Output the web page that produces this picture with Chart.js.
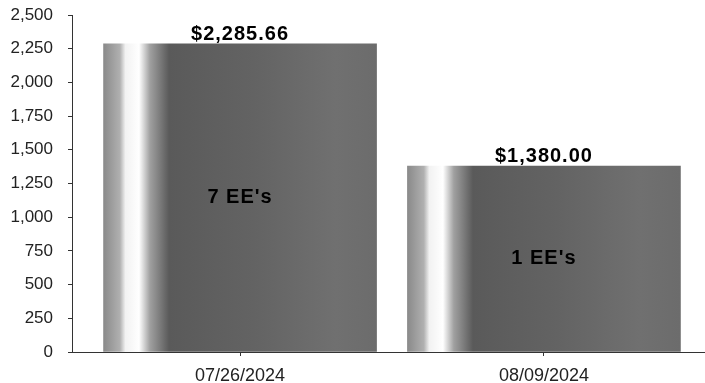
<!DOCTYPE html>
<html>
<head>
<meta charset="utf-8">
<script src="https://cdn.jsdelivr.net/npm/chart.js@4/dist/chart.umd.min.js"></script>
<style>
  html, body { margin: 0; padding: 0; background: #fff; }
  #chart { display: block; }
</style>
</head>
<body>
<canvas id="chart" width="705" height="383"></canvas>
<script>
// chart data
const categories = ["07/26/2024", "08/09/2024"];
const payTotals = [2285.66, 1380.00];
const employeeCounts = [7, 1];
const yTicks = [0, 250, 500, 750, 1000, 1250, 1500, 1750, 2000, 2250, 2500];

const BAR_W = 273;

function barFill(c) {
  const chart = c.chart;
  if (!chart.chartArea || !chart.scales.x) return '#6a6a6a';
  const cx = chart.scales.x.getPixelForValue(c.dataIndex);
  const x0 = cx - BAR_W / 2;
  const g = chart.ctx.createLinearGradient(x0, 0, x0 + BAR_W, 0);
  g.addColorStop(0.00, '#8a8a8a');
  g.addColorStop(0.06, '#b0b0b0');
  g.addColorStop(0.08, '#f2f2f2');
  g.addColorStop(0.13, '#ffffff');
  g.addColorStop(0.17, '#a0a0a0');
  g.addColorStop(0.24, '#5a5a5a');
  g.addColorStop(0.55, '#636363');
  g.addColorStop(0.85, '#707070');
  g.addColorStop(1.00, '#6c6c6c');
  return g;
}

const barLabels = {
  id: 'barLabels',
  afterDatasetsDraw(chart) {
    const ctx = chart.ctx;
    const meta = chart.getDatasetMeta(0);
    ctx.save();
    ctx.fillStyle = '#000';
    ctx.textAlign = 'center';
    ctx.font = 'bold 20px "Liberation Sans", Arial, sans-serif';
    ctx.letterSpacing = '1px';
    meta.data.forEach((bar, i) => {
      const v = '$' + payTotals[i].toLocaleString('en-US', { minimumFractionDigits: 2, maximumFractionDigits: 2 });
      ctx.textBaseline = 'alphabetic';
      ctx.fillText(v, bar.x, bar.y - 4);
      ctx.textBaseline = 'middle';
      ctx.fillText(employeeCounts[i] + " EE's", bar.x, (bar.y + bar.base) / 2);
    });
    ctx.restore();
  }
};

new Chart(document.getElementById('chart').getContext('2d'), {
  type: 'bar',
  data: {
    datasets: [{
      data: payTotals.map((v, i) => ({ x: i, y: v })),
      backgroundColor: barFill,
      borderWidth: 0,
      barThickness: BAR_W
    }]
  },
  options: {
    responsive: false,
    animation: false,
    layout: { padding: { top: 15, right: 0, left: 0, bottom: 0 } },
    plugins: { legend: { display: false }, tooltip: { enabled: false } },
    scales: {
      x: {
        type: 'linear',
        min: -0.553,
        max: 1.53,
        offset: false,
        afterBuildTicks: (s) => { s.ticks = categories.map((c, i) => ({ value: i })); },
        afterFit: (s) => { s.height = 31; s.paddingLeft = 0; s.paddingRight = 0; },
        grid: { offset: false, drawOnChartArea: false, drawTicks: true, tickLength: 4, tickColor: '#333' },
        border: { display: true, color: '#333', width: 1 },
        ticks: {
          autoSkip: false,
          maxRotation: 0,
          padding: 9,
          color: '#222',
          font: { family: '"Liberation Sans", Arial, sans-serif', size: 18 },
          callback: (v) => categories[v]
        }
      },
      y: {
        min: yTicks[0],
        max: yTicks[yTicks.length - 1],
        afterBuildTicks: (s) => { s.ticks = yTicks.map(v => ({ value: v })); },
        afterFit: (s) => { s.width = 72; s.paddingTop = 0; s.paddingBottom = 0; },
        grid: { drawOnChartArea: false, drawTicks: true, tickLength: 4, tickColor: '#333' },
        border: { display: true, color: '#333', width: 1 },
        ticks: {
          padding: 15,
          color: '#222',
          font: { family: '"Liberation Sans", Arial, sans-serif', size: 17 },
          callback: (v) => v.toLocaleString('en-US')
        }
      }
    }
  },
  plugins: [barLabels]
});
</script>
</body>
</html>
